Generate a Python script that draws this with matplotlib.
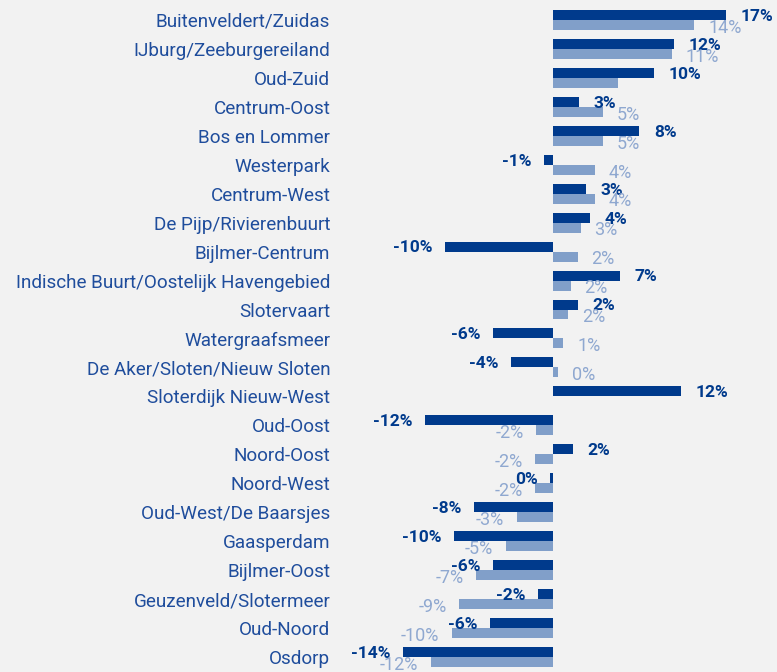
import matplotlib.pyplot as plt
import numpy as np

plt.rcParams['font.family'] = ['Roboto', 'DejaVu Sans']

wijken = ['Buitenveldert/Zuidas', 'IJburg/Zeeburgereiland', 'Oud-Zuid', 'Centrum-Oost',
          'Bos en Lommer', 'Westerpark', 'Centrum-West', 'De Pijp/Rivierenbuurt',
          'Bijlmer-Centrum', 'Indische Buurt/Oostelijk Havengebied', 'Slotervaart',
          'Watergraafsmeer', 'De Aker/Sloten/Nieuw Sloten', 'Sloterdijk Nieuw-West',
          'Oud-Oost', 'Noord-Oost', 'Noord-West', 'Oud-West/De Baarsjes', 'Gaasperdam',
          'Bijlmer-Oost', 'Geuzenveld/Slotermeer', 'Oud-Noord', 'Osdorp']

# dark series and light series (percent)
reeks_1 = [17.0, 11.9, 9.9, 2.5, 8.5, -0.9, 3.2, 3.6, -10.7, 6.6, 2.4, -5.9, -4.2, 12.6,
           -12.6, 1.9, -0.3, -7.8, -9.8, -5.9, -1.5, -6.2, -14.8]
reeks_2 = [13.9, 11.7, 6.4, 4.9, 4.9, 4.1, 4.1, 2.7, 2.4, 1.7, 1.5, 1.0, 0.5, np.nan,
           -1.7, -1.8, -1.8, -3.6, -4.7, -7.6, -9.3, -10.0, -12.1]

# labels as printed in the chart
labels_1 = [17, 12, 10, 3, 8, -1, 3, 4, -10, 7, 2, -6, -4, 12, -12, 2, 0, -8, -10, -6, -2, -6, -14]
labels_2 = [14, 11, None, 5, 5, 4, 4, 3, 2, 2, 2, 1, 0, None, -2, -2, -2, -3, -5, -7, -9, -10, -12]

donker = '#003a8c'
licht = '#819fc9'
licht_tekst = '#8fa8d0'
bg = '#f2f2f2'

fig = plt.figure(figsize=(7.77, 6.72), dpi=100, facecolor=bg)
ax = fig.add_axes([340 / 777, 0, 437 / 777, 1])
ax.set_facecolor(bg)

y = np.arange(len(wijken))
h = 0.345
ax.barh(y - h / 2, reeks_1, height=h, color=donker)
ax.barh(y + h / 2, reeks_2, height=h, color=licht)

for i in range(len(wijken)):
    v = reeks_1[i]
    ax.annotate(f'{labels_1[i]}%', (v, i - h / 2), xytext=(10.5 if v >= 0 else -9, -1),
                textcoords='offset points', va='center', ha='left' if v >= 0 else 'right',
                fontsize=12.5, fontweight='bold', color=donker)
    if labels_2[i] is not None:
        v = reeks_2[i]
        ax.annotate(f'{labels_2[i]}%', (v, i + h / 2), xytext=(10 if v >= 0 else -9, -2),
                    textcoords='offset points', va='center', ha='left' if v >= 0 else 'right',
                    fontsize=13, color=licht_tekst)

ax.set_xlim(-21.03, 22.06)
ax.set_ylim(22.52, -0.69)
ax.set_yticks(y)
ax.set_yticklabels(wijken, fontsize=13.6, color='#1f4d9c')
ax.tick_params(axis='y', length=0, pad=7)
ax.set_xticks([])
for s in ax.spines.values():
    s.set_visible(False)

fig.savefig('out.png', dpi=100, facecolor=bg)
